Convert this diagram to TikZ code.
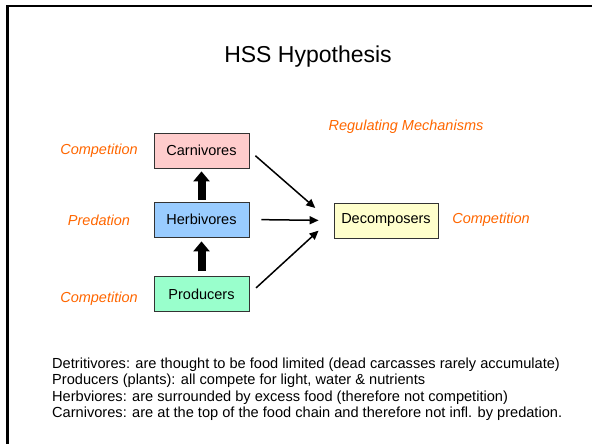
\documentclass[tikz,border=0pt]{standalone}
\usepackage{fontspec}
\setmainfont{Liberation Sans}
\usetikzlibrary{arrows.meta}
\definecolor{carnpink}{HTML}{FFCCCC}
\definecolor{herbblue}{HTML}{99CCFF}
\definecolor{prodgreen}{HTML}{99FFCC}
\definecolor{decompyellow}{HTML}{FFFFCC}
\definecolor{mechorange}{HTML}{FF6600}
\tikzset{
  level/.style={draw=black!80, line width=0.8pt, minimum width=95pt, minimum height=35pt,
    inner sep=0pt, font=\fontsize{14.5}{17}\selectfont},
  mech/.style={text=mechorange, font=\fontsize{14.5}{17}\selectfont\itshape},
  note/.style={anchor=base west, inner sep=0pt, font=\fontsize{14.6}{17}\selectfont},
  fat/.style={line width=8pt, -{Triangle[length=10pt,width=16pt]}},
  flow/.style={line width=1.5pt, -{Triangle[length=9pt,width=8pt]}}
}
\begin{document}
\begin{tikzpicture}[x=1pt,y=-1pt]
\useasboundingbox (0,0) rectangle (592,444);
% slide edge
\draw[line width=2.5pt] (7.3,444) -- (7.3,5.8) -- (592,5.8);
% title
\node[font=\fontsize{23}{27}\selectfont] (title) at (308,57) {HSS Hypothesis};
% trophic levels
\node[level, fill=carnpink] (carn) at (201.5,150.5) {Carnivores};
\node[level, fill=herbblue] (herb) at (201.5,219.5) {Herbivores};
\node[level, fill=prodgreen] (prod) at (201.5,294) {Producers};
\node[level, fill=decompyellow, minimum width=104pt] (decomp) at (386,220.5) {Decomposers};
% energy flow up the chain
\draw[fat, shorten <=5pt, shorten >=4pt] (prod.north) -- (herb.south);
\draw[fat, shorten <=2pt, shorten >=3pt] (herb.north) -- (carn.south);
% flow to decomposers
\coordinate (hub) at ([xshift=-4pt]decomp.west);
\draw[flow, shorten <=8pt, shorten >=19pt] (carn.east) -- (hub);
\draw[flow, shorten <=12pt, shorten >=11pt] (herb.east) -- (hub);
\draw[flow, shorten <=9pt, shorten >=15pt] (prod.east) -- (hub);
% regulating mechanisms
\node[mech] (mechtitle) at (406,127) {Regulating Mechanisms};
\node[mech] (mcarn) at (99,151) {Competition};
\node[mech] (mherb) at (99,220) {Predation};
\node[mech] (mprod) at (99,299) {Competition};
\node[mech] (mdecomp) at (491,220) {Competition};
% notes
\node[note] (note1) at (52,368) {Detritivores: are thought to be food limited (dead carcasses rarely accumulate)};
\node[note] (note2) at (52,384.6) {Producers (plants): all compete for light, water \& nutrients};
\node[note] (note3) at (52,401.2) {Herbviores: are surrounded by excess food (therefore not competition)};
\node[note] (note4) at (52,417.8) {Carnivores: are at the top of the food chain and therefore not infl. by predation.};
\end{tikzpicture}
\end{document}
